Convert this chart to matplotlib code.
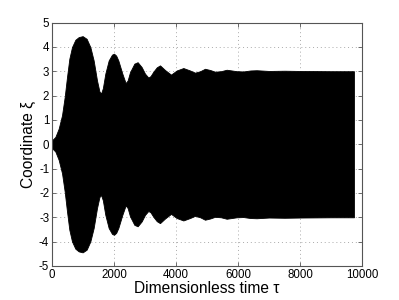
import numpy as np
import matplotlib
matplotlib.use("Agg")
import matplotlib.pyplot as plt

# upper envelope of the oscillation (lower is mirrored)
t_env = [0, 108, 215, 323, 409, 484, 559, 645, 753, 860, 989, 1118, 1237,
         1344, 1452, 1530, 1581, 1640, 1720, 1828, 1935, 2000, 2070, 2140,
         2269, 2376, 2440, 2516, 2656, 2763, 2892, 3000, 3108, 3180, 3269,
         3380, 3484, 3645, 3839, 4022, 4237, 4452, 4613, 4780, 4935, 5100,
         5258, 5450, 5634, 5800, 5957, 6172, 6400, 6600, 7000, 7500, 8000,
         9000, 9740]
amp_env = [0.16, 0.30, 0.64, 1.19, 1.94, 2.76, 3.51, 3.99, 4.29, 4.40, 4.44,
           4.33, 3.99, 3.44, 2.62, 2.17, 2.08, 2.30, 2.90, 3.44, 3.68, 3.72,
           3.64, 3.44, 2.90, 2.51, 2.62, 2.96, 3.31, 3.37, 3.17, 2.90, 2.74,
           2.80, 2.98, 3.16, 3.24, 3.05, 2.86, 3.03, 3.13, 3.03, 2.94, 3.00,
           3.10, 3.05, 2.98, 3.00, 3.06, 3.03, 3.00, 2.99, 3.03, 3.04, 3.01,
           3.02, 3.01, 3.0, 3.0]

x_ticks = [0, 2000, 4000, 6000, 8000, 10000]
y_ticks = [-5, -4, -3, -2, -1, 0, 1, 2, 3, 4, 5]

plt.rcParams['font.family'] = ['Liberation Sans', 'DejaVu Sans']

fig = plt.figure(figsize=(3.99, 3.0), dpi=100)
ax = fig.add_axes([52/399, 34/300, 310/399, 243.5/300])

t = np.array(t_env)
a = np.array(amp_env)
ax.fill_between(t, -a, a, color='black', linewidth=0.6, edgecolor='black')

ax.set_xlim(0, 10000)
ax.set_ylim(-5, 5)
ax.set_xticks(x_ticks)
ax.set_yticks(y_ticks)
ax.set_yticklabels([str(v) for v in y_ticks])
ax.set_axisbelow(True)
ax.grid(True, linestyle=(0, (1, 3)), color='#aaaaaa', linewidth=0.7)
ax.tick_params(direction='in', top=True, right=True, labelsize=8.3,
               length=3, width=0.6, color='#555555', pad=2)
for s in ax.spines.values():
    s.set_color('#555555')
    s.set_linewidth(0.8)

ax.set_xlabel('Dimensionless time τ', fontsize=11.2, labelpad=0)
ax.set_ylabel('Coordinate ξ', fontsize=11.2, labelpad=2)

fig.savefig('out.png', dpi=100)
